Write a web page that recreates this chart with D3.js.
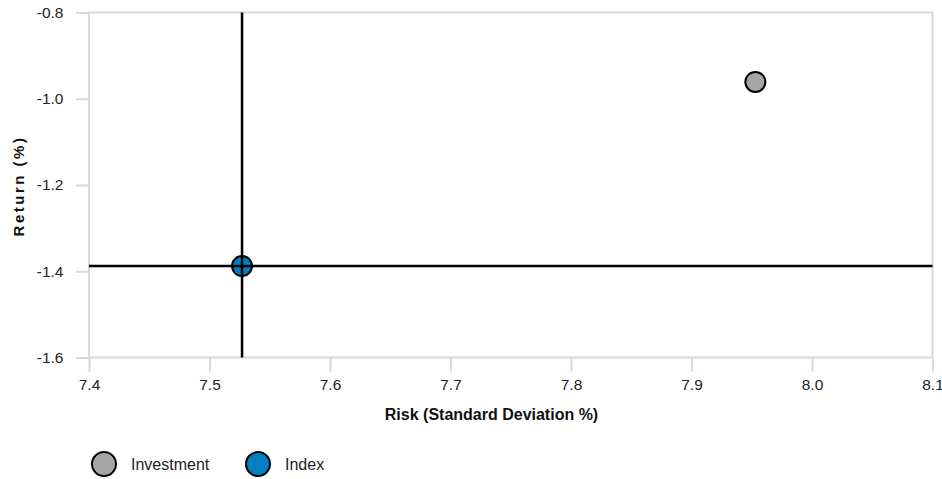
<!DOCTYPE html>
<html><head><meta charset="utf-8">
<script src="https://cdn.jsdelivr.net/npm/d3@7"></script>
<style>body{margin:0;background:#fff;} svg{display:block;font-family:"Liberation Sans",Arial,sans-serif;}</style>
</head><body><svg id="c" width="942" height="479"></svg>
<script>
const seriesNames = ["Investment", "Index"];
const riskValues = [7.953, 7.527];
const returnValues = [-0.961, -1.388];
const seriesColors = ["#a6a6a6", "#0080c3"];
const xTicks = [7.4, 7.5, 7.6, 7.7, 7.8, 7.9, 8.0, 8.1];
const yTicks = [-0.8, -1.0, -1.2, -1.4, -1.6];

const svg = d3.select("#c");
const L = 89, R = 932.5, T = 12.5, B = 357.5;
const x = d3.scaleLinear().domain([7.4, 8.1]).range([L, R]);
const y = d3.scaleLinear().domain([-1.6, -0.8]).range([B, T]);
const grey = "#d9d9d9";
const fmt = d => d.toFixed(1);
const FF = "Liberation Sans, Arial, sans-serif";

// frame
svg.append("rect").attr("x", L).attr("y", T).attr("width", R - L).attr("height", B - T)
  .attr("fill", "none").attr("stroke", grey).attr("stroke-width", 2);

// x axis
const xa = svg.append("g").attr("transform", `translate(0,${B})`)
  .call(d3.axisBottom(x).tickValues(xTicks).tickFormat(fmt).tickSize(14).tickPadding(7.5));
xa.select(".domain").remove();
xa.selectAll(".tick line").attr("stroke", grey).attr("stroke-width", 2);
xa.selectAll(".tick text").attr("fill", "#222").style("font-size", "15.5px").style("font-family", FF);

// y axis
const ya = svg.append("g").attr("transform", `translate(${L},0)`)
  .call(d3.axisLeft(y).tickValues(yTicks).tickFormat(fmt).tickSize(13).tickPadding(12.5));
ya.select(".domain").remove();
ya.selectAll(".tick line").attr("stroke", grey).attr("stroke-width", 2);
ya.selectAll(".tick text").attr("fill", "#222").style("font-size", "15.5px").style("font-family", FF);

// crosshair at index
const ix = x(riskValues[1]), iy = y(returnValues[1]);
svg.append("line").attr("x1", ix).attr("x2", ix).attr("y1", T).attr("y2", B).attr("stroke", "#000").attr("stroke-width", 2.5);
svg.append("line").attr("x1", L).attr("x2", R).attr("y1", iy).attr("y2", iy).attr("stroke", "#000").attr("stroke-width", 2.5);

// points
const data = seriesNames.map((n, i) => ({n, r: riskValues[i], v: returnValues[i], c: seriesColors[i]}));
svg.selectAll("circle.pt").data(data).join("circle").attr("class", "pt")
  .attr("cx", d => x(d.r)).attr("cy", d => y(d.v)).attr("r", 10)
  .attr("fill", d => d.c).attr("stroke", "#000").attr("stroke-width", 2);
// redraw crosshair over index point
svg.append("line").attr("x1", ix).attr("x2", ix).attr("y1", iy - 10).attr("y2", iy + 10).attr("stroke", "#000").attr("stroke-width", 2.5);
svg.append("line").attr("x1", ix - 10).attr("x2", ix + 10).attr("y1", iy).attr("y2", iy).attr("stroke", "#000").attr("stroke-width", 2.5);

// axis titles
svg.append("text").attr("x", 491.5).attr("y", 420).attr("text-anchor", "middle")
  .style("font-size", "16px").style("font-weight", "bold").attr("fill", "#111").text("Risk (Standard Deviation %)");
svg.append("text").attr("transform", `translate(24,${186}) rotate(-90)`).attr("text-anchor", "middle")
  .style("font-size", "15px").style("font-weight", "bold").style("letter-spacing", "2.5px").attr("fill", "#111").text("Return (%)");

// legend
const lx = [104, 258];
const lg = svg.selectAll("g.lg").data(data).join("g").attr("class", "lg")
  .attr("transform", (d, i) => `translate(${lx[i]},464)`);
lg.append("circle").attr("r", 12).attr("fill", d => d.c).attr("stroke", "#000").attr("stroke-width", 2);
lg.append("text").attr("x", 27).attr("dy", "0.35em").style("font-size", "16px").attr("fill", "#222").text(d => d.n);
</script></body></html>
